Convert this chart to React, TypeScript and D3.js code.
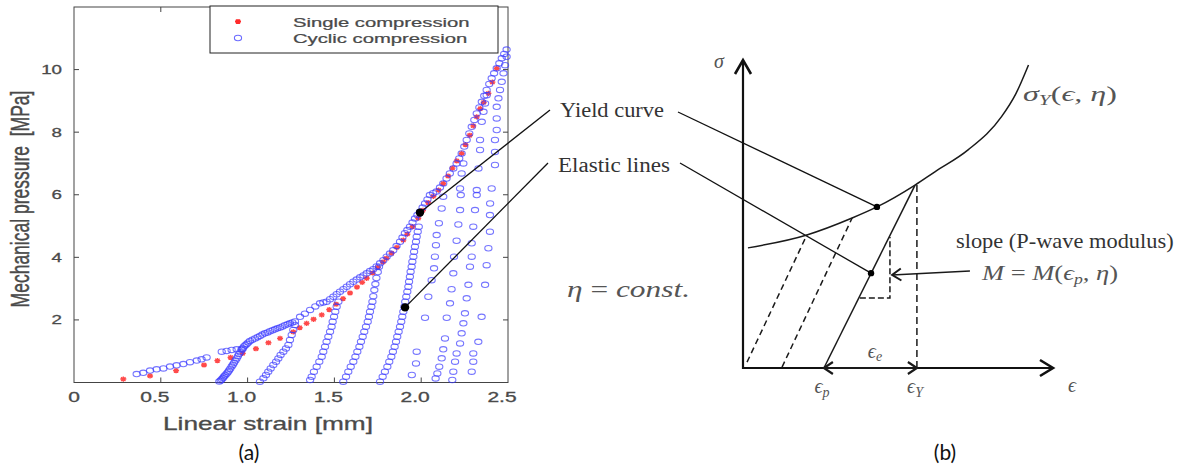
import React from 'react';
import * as d3 from 'd3';

const W = 1195;
const H = 470;

// ---------- panel (a): values ----------
const xTicks = [0, 0.5, 1.0, 1.5, 2.0, 2.5];
const xTickLabels = ['0', '0.5', '1.0', '1.5', '2.0', '2.5'];
const yTicks = [2, 4, 6, 8, 10];
const yTickLabels = ['2', '4', '6', '8', '10'];
const legendLabels = ['Single compression', 'Cyclic compression'];

// red stars, single compression test
const singleCompression = [
  [0.284, 0.11], [0.438, 0.21], [0.588, 0.38], [0.749, 0.56], [0.826, 0.70], [0.902, 0.80],
  [0.972, 0.93], [1.048, 1.08], [1.12, 1.27], [1.187, 1.41], [1.263, 1.62], [1.30, 1.75],
  [1.34, 1.89], [1.38, 2.02], [1.427, 2.16], [1.47, 2.33], [1.51, 2.5], [1.55, 2.68],
  [1.59, 2.86], [1.63, 3.05], [1.66, 3.2], [1.686, 3.33], [1.72, 3.5], [1.75, 3.68],
  [1.78, 3.85], [1.80, 3.97], [1.83, 4.13], [1.86, 4.32], [1.897, 4.55], [1.92, 4.74],
  [1.95, 4.98], [1.983, 5.25], [2.01, 5.5], [2.04, 5.75], [2.07, 5.95], [2.10, 6.15],
  [2.127, 6.36], [2.155, 6.6], [2.18, 6.85], [2.205, 7.08], [2.233, 7.32], [2.255, 7.6],
  [2.28, 7.9], [2.30, 8.2], [2.32, 8.49], [2.34, 8.75], [2.36, 8.95], [2.387, 9.24],
  [2.41, 9.6], [2.435, 10.04],
];

// blue circles, cyclic compression test (one array per visible branch)
const firstLoading = [
  [0.361, 0.27], [0.399, 0.31], [0.438, 0.38], [0.476, 0.42], [0.515, 0.45], [0.553, 0.51],
  [0.591, 0.55], [0.630, 0.59], [0.668, 0.65], [0.707, 0.70], [0.735, 0.74], [0.764, 0.80],
];
const firstPeak = [[0.851, 0.985], [0.879, 1.01], [0.908, 1.04], [0.937, 1.06], [0.966, 1.08]];
const reload1 = [
  [0.837, 0.03], [0.845, 0.06], [0.851, 0.10], [0.858, 0.14], [0.864, 0.19], [0.871, 0.23],
  [0.879, 0.28], [0.886, 0.33], [0.893, 0.38], [0.900, 0.44], [0.908, 0.51], [0.915, 0.57],
  [0.922, 0.63], [0.930, 0.70], [0.937, 0.77], [0.944, 0.84], [0.950, 0.91], [0.958, 0.97],
  [0.966, 1.04], [0.973, 1.09], [0.979, 1.15], [0.987, 1.19], [0.995, 1.23], [1.004, 1.28],
  [1.014, 1.33], [1.028, 1.37], [1.043, 1.41], [1.057, 1.45], [1.071, 1.49], [1.085, 1.53],
  [1.10, 1.57], [1.115, 1.60], [1.129, 1.64], [1.144, 1.67], [1.158, 1.70], [1.172, 1.73],
  [1.187, 1.76], [1.201, 1.79], [1.215, 1.83], [1.230, 1.86], [1.244, 1.89], [1.258, 1.92],
  [1.273, 1.95],
];
const reload2 = [
  [1.071, 0.027], [1.091, 0.133], [1.106, 0.24], [1.119, 0.346], [1.133, 0.45], [1.148, 0.56],
  [1.164, 0.666], [1.177, 0.77], [1.19, 0.88], [1.206, 0.985], [1.221, 1.09], [1.235, 1.2],
  [1.244, 1.36], [1.254, 1.52], [1.263, 1.68], [1.273, 1.84],
];
const envelope = [
  [1.302, 2.10], [1.33, 2.2], [1.36, 2.32], [1.39, 2.43], [1.417, 2.53], [1.436, 2.56],
  [1.455, 2.58], [1.475, 2.66], [1.494, 2.74], [1.513, 2.82], [1.532, 2.90], [1.552, 2.98],
  [1.571, 3.06], [1.59, 3.14], [1.609, 3.22], [1.628, 3.29], [1.648, 3.36], [1.667, 3.42],
  [1.686, 3.49], [1.705, 3.56], [1.724, 3.62], [1.743, 3.71], [1.763, 3.81], [1.782, 3.91],
  [1.801, 4.02], [1.82, 4.12], [1.839, 4.23], [1.858, 4.36], [1.878, 4.50], [1.892, 4.63],
  [1.906, 4.77], [1.92, 4.87], [1.935, 4.98], [1.95, 5.11], [1.964, 5.24], [1.978, 5.35],
  [1.993, 5.46], [2.008, 5.59], [2.022, 5.72], [2.036, 5.85], [2.05, 5.99], [2.069, 6.05],
  [2.088, 6.10], [2.108, 6.23], [2.127, 6.36], [2.146, 6.52], [2.165, 6.68], [2.185, 6.84],
  [2.204, 7.0], [2.219, 7.16], [2.233, 7.32], [2.248, 7.54], [2.262, 7.75], [2.277, 7.96],
  [2.291, 8.17], [2.306, 8.39], [2.320, 8.60], [2.335, 8.79], [2.349, 8.97], [2.363, 9.16],
  [2.377, 9.35], [2.392, 9.54], [2.406, 9.72], [2.42, 9.88], [2.435, 10.04], [2.45, 10.2],
  [2.464, 10.36], [2.478, 10.5], [2.492, 10.64],
];
const branchA = [
  [1.36, 0.08], [1.369, 0.186], [1.382, 0.346], [1.398, 0.506], [1.413, 0.666], [1.427, 0.825],
  [1.436, 0.985], [1.446, 1.145], [1.455, 1.305], [1.465, 1.464], [1.475, 1.624], [1.484, 1.784],
  [1.490, 1.944], [1.498, 2.103], [1.505, 2.263], [1.513, 2.423], [1.523, 2.583],
];
const branchB = [
  [1.551, 0.027], [1.567, 0.186], [1.580, 0.346], [1.594, 0.506], [1.609, 0.666], [1.621, 0.825],
  [1.632, 0.985], [1.644, 1.145], [1.653, 1.305], [1.663, 1.464], [1.672, 1.624], [1.682, 1.784],
  [1.692, 1.944], [1.699, 2.103], [1.705, 2.263], [1.713, 2.423], [1.719, 2.583], [1.724, 2.76],
  [1.730, 2.955], [1.736, 3.147], [1.742, 3.339], [1.750, 3.53], [1.757, 3.70],
];
const branchC = [
  [1.763, 0.027], [1.778, 0.186], [1.791, 0.346], [1.805, 0.506], [1.816, 0.666], [1.828, 0.825],
  [1.837, 0.985], [1.847, 1.145], [1.855, 1.305], [1.862, 1.464], [1.870, 1.624], [1.878, 1.784],
  [1.885, 1.944], [1.891, 2.103], [1.897, 2.263], [1.903, 2.423], [1.908, 2.583], [1.914, 2.742],
  [1.920, 2.902], [1.926, 3.062], [1.930, 3.222], [1.935, 3.381], [1.939, 3.541], [1.945, 3.701],
  [1.949, 3.86], [1.955, 4.02], [1.959, 4.18], [1.964, 4.34], [1.970, 4.5], [1.974, 4.66],
  [1.980, 4.82], [1.986, 4.98],
];
const branchD = [
  [1.946, 0.24], [1.970, 0.61], [1.974, 0.985], [2.022, 2.07], [2.041, 2.74], [2.060, 3.27],
  [2.074, 3.65], [2.079, 4.02], [2.085, 4.39], [2.089, 4.71], [2.102, 5.09], [2.118, 5.56],
  [2.127, 5.94],
];
const branchE = [
  [2.083, 0.13], [2.093, 0.29], [2.104, 0.506], [2.118, 0.772], [2.127, 1.06], [2.137, 1.41],
  [2.147, 2.07], [2.166, 2.53], [2.175, 2.98], [2.185, 3.49], [2.189, 4.02], [2.204, 4.53],
  [2.214, 5.05], [2.224, 5.51], [2.228, 5.99], [2.224, 6.2], [2.233, 6.68], [2.243, 7.0],
];
const branchF = [
  [2.179, 0.08], [2.185, 0.346], [2.195, 0.666], [2.204, 0.93], [2.224, 1.25], [2.233, 1.57],
  [2.243, 1.89], [2.252, 2.21], [2.262, 2.69], [2.272, 3.12], [2.281, 3.70], [2.291, 4.02],
  [2.291, 4.45], [2.300, 4.98], [2.310, 5.51], [2.320, 5.99], [2.32, 6.15], [2.33, 6.84],
  [2.339, 7.43], [2.339, 7.75], [2.349, 8.33], [2.359, 8.65], [2.368, 8.92], [2.377, 9.18],
];
const branchG = [
  [2.291, 0.346], [2.300, 0.666], [2.300, 0.93], [2.329, 1.30], [2.348, 2.10], [2.368, 3.12],
  [2.377, 3.75], [2.387, 4.29], [2.396, 4.82], [2.396, 5.35], [2.397, 5.72], [2.406, 6.2],
  [2.425, 6.95], [2.425, 7.37], [2.425, 7.75], [2.435, 8.07], [2.435, 8.44], [2.435, 8.81],
  [2.445, 9.08], [2.454, 9.35], [2.464, 9.61], [2.474, 9.88], [2.483, 10.14], [2.492, 10.41],
];
const cyclicBranches = [firstLoading, firstPeak, reload1, reload2, envelope, branchA, branchB, branchC, branchD, branchE, branchF, branchG];

// highlighted points linked to the sketch
const yieldPointA = [1.993, 5.43];
const elasticPointA = [1.907, 2.40];

// ---------- panel (b): schematic in unit coordinates ----------
const yieldCurve = [
  [0.016, 0.390], [0.206, 0.432], [0.352, 0.487], [0.432, 0.523], [0.555, 0.594], [0.619, 0.637],
  [0.726, 0.708], [0.834, 0.816], [0.88, 0.89], [0.921, 0.984],
];
const elasticSolid = [[0.261, 0], [0.555, 0.594]];
const elasticDashed = [
  [[0.013, 0.019], [0.206, 0.432]],
  [[0.126, 0.003], [0.352, 0.487]],
];
const yieldStrainLine = [[0.561, 0], [0.561, 0.594]];
const slopeTriangle = [[0.377, 0.227], [0.474, 0.227], [0.474, 0.425]];
const yieldPointB = [0.432, 0.523];
const elasticPointB = [0.413, 0.308];
const slopeArrow = [[0.732, 0.315], [0.481, 0.302]];
const elasticStrain = [[0.261, 0], [0.561, 0]];

const xA = d3.scaleLinear().domain([0, 2.5]).range([74, 508]);
const yA = d3.scaleLinear().domain([0, 12]).range([382.5, 7]);
const xB = d3.scaleLinear().domain([0, 1]).range([743, 1053]);
const yB = d3.scaleLinear().domain([0, 1]).range([368, 60]);

const pB = (d: number[]) => [xB(d[0]), yB(d[1])];
const lineB = d3.line<number[]>().x(d => xB(d[0])).y(d => yB(d[1]));
const curveB = d3.line<number[]>().x(d => xB(d[0])).y(d => yB(d[1])).curve(d3.curveMonotoneX);

// open arrow head at `tip`, pointing away from `from`
const chevron = (tip: number[], from: number[], len: number, half: number) => {
  const dx = tip[0] - from[0];
  const dy = tip[1] - from[1];
  const L = Math.hypot(dx, dy);
  const ux = dx / L, uy = dy / L;
  const bx = tip[0] - ux * len, by = tip[1] - uy * len;
  return `M${bx - uy * half},${by + ux * half}L${tip[0]},${tip[1]}L${bx + uy * half},${by - ux * half}`;
};

const star = 'M-3,0H3M0,-2.6V2.6M-2.2,-1.9L2.2,1.9M-2.2,1.9L2.2,-1.9';

const sans = '"Liberation Sans", Arial, sans-serif';
const serif = '"Liberation Serif", "DejaVu Serif", serif';
const gray = '#4a4a4a';

const PanelA = () => {
  const [x0, x1] = xA.range();
  const [y0, y1] = yA.range();
  return (
    <g>
      <rect x={x0} y={y1} width={x1 - x0} height={y0 - y1} fill="#fff" stroke="#444" strokeWidth={1} />
      {xTicks.slice(1, -1).map(t => (
        <g key={`xt${t}`} stroke="#444">
          <line x1={xA(t)} x2={xA(t)} y1={y0} y2={y0 - 5} />
          <line x1={xA(t)} x2={xA(t)} y1={y1} y2={y1 + 5} />
        </g>
      ))}
      {yTicks.map(t => (
        <g key={`yt${t}`} stroke="#444">
          <line x1={x0} x2={x0 + 5} y1={yA(t)} y2={yA(t)} />
          <line x1={x1} x2={x1 - 5} y1={yA(t)} y2={yA(t)} />
        </g>
      ))}
      {xTicks.map((t, i) => (
        <text key={`xl${t}`} transform={`translate(${xA(t) - (i ? 6 : 0)},402) scale(1.5,1)`}
          textAnchor="middle" fontFamily={sans} fontSize={14} fill={gray} stroke={gray} strokeWidth={0.3}>
          {xTickLabels[i]}
        </text>
      ))}
      {yTicks.map((t, i) => (
        <text key={`yl${t}`} transform={`translate(62,${yA(t) + 4.5}) scale(1.5,1)`}
          textAnchor="end" fontFamily={sans} fontSize={12.5} fill={gray} stroke={gray} strokeWidth={0.3}>
          {yTickLabels[i]}
        </text>
      ))}
      <text transform="translate(268,430) scale(1.5,1)" textAnchor="middle" fontFamily={sans}
        fontSize={17.5} fill={gray} stroke={gray} strokeWidth={0.3}>Linear strain [mm]</text>
      <text transform="translate(29,199) rotate(-90) scale(1,1.5)" textAnchor="middle" fontFamily={sans}
        fontSize={17.5} fill={gray} stroke={gray} strokeWidth={0.3} xmlSpace="preserve">Mechanical pressure  [MPa]</text>

      {singleCompression.map((d, i) => (
        <path key={`s${i}`} d={star} transform={`translate(${xA(d[0])},${yA(d[1])})`}
          stroke="#ff2a2a" strokeWidth={1.4} fill="none" opacity={0.85} />
      ))}
      {cyclicBranches.map((branch, b) => branch.map((d, i) => (
        <ellipse key={`c${b}-${i}`} cx={xA(d[0])} cy={yA(d[1])} rx={3.6} ry={2.7}
          fill="none" stroke="#3a3aff" strokeWidth={1.1} strokeOpacity={0.7} />
      )))}

      <rect x={210} y={6} width={288} height={47} fill="#fff" stroke="#222" strokeWidth={1} />
      <path d={star} transform="translate(238,21.5)" stroke="#ff2a2a" strokeWidth={1.4} fill="none" />
      <ellipse cx={238} cy={38} rx={3.6} ry={2.7} fill="none" stroke="#3a3aff" strokeWidth={1.1} strokeOpacity={0.75} />
      {legendLabels.map((s, i) => (
        <text key={s} transform={`translate(293,${26.5 + i * 16.3}) scale(1.5,1)`} fontFamily={sans}
          fontSize={13.5} fill={gray} stroke={gray} strokeWidth={0.25}>{s}</text>
      ))}
      <text x={249} y={460} textAnchor="middle" fontFamily="Lato, 'Open Sans', sans-serif" fontSize={21} fill="#111">(a)</text>
    </g>
  );
};

const PanelB = () => {
  const o = [xB(0), yB(0)];
  const sigTip = [xB(0), yB(1)];
  const epsTip = [xB(1), yB(0)];
  const es = elasticStrain.map(pB);
  const sa = slopeArrow.map(pB);
  const yd = pB(yieldPointB);
  const ed = pB(elasticPointB);
  const ya = [xA(yieldPointA[0]), yA(yieldPointA[1])];
  const ea = [xA(elasticPointA[0]), yA(elasticPointA[1])];
  const math = { fontFamily: serif, fontStyle: 'italic' as const, fill: '#555' };
  return (
    <g>
      {/* connectors from the data plot to the labels */}
      <g stroke="#111" strokeWidth={1.3} fill="none">
        <line x1={ya[0]} y1={ya[1]} x2={550} y2={110} />
        <line x1={ea[0]} y1={ea[1]} x2={548} y2={163} />
        <line x1={678} y1={112} x2={yd[0]} y2={yd[1]} />
        <line x1={680} y1={163} x2={ed[0]} y2={ed[1]} />
      </g>
      <circle cx={ya[0]} cy={ya[1]} r={4.2} fill="#000" />
      <circle cx={ea[0]} cy={ea[1]} r={4.2} fill="#000" />

      {/* axes */}
      <g stroke="#111" strokeWidth={2.2} fill="none">
        <path d={`M${sigTip[0]},${sigTip[1]}V${o[1]}H${epsTip[0]}`} />
        <path d={chevron(sigTip, o, 14, 8)} strokeWidth={2.6} />
        <path d={chevron(epsTip, o, 13, 8)} strokeWidth={2.6} />
      </g>

      <g stroke="#1a1a1a" strokeWidth={1.5} fill="none">
        <path d={curveB(yieldCurve) ?? ''} />
        <path d={lineB(elasticSolid) ?? ''} />
        {elasticDashed.map((l, i) => <path key={i} d={lineB(l) ?? ''} strokeDasharray="6 4" />)}
        <path d={lineB(yieldStrainLine) ?? ''} strokeDasharray="7 4" />
        <path d={lineB(slopeTriangle) ?? ''} strokeDasharray="6 3" />
        <line x1={es[0][0]} y1={es[0][1]} x2={es[1][0]} y2={es[1][1]} strokeWidth={2} />
        <path d={chevron(es[0], es[1], 9, 6)} strokeWidth={2.2} />
        <path d={chevron(es[1], es[0], 9, 6)} strokeWidth={2.2} />
        <line x1={sa[0][0]} y1={sa[0][1]} x2={sa[1][0]} y2={sa[1][1]} />
        <path d={chevron(sa[1], sa[0], 9, 6)} strokeWidth={2} />
      </g>
      <circle cx={yd[0]} cy={yd[1]} r={3.2} fill="#000" />
      <circle cx={ed[0]} cy={ed[1]} r={3.2} fill="#000" />

      {/* text */}
      <text x={560} y={117} fontFamily={serif} fontSize={20} fill="#333" textLength={104} lengthAdjust="spacingAndGlyphs">Yield curve</text>
      <text x={558} y={172} fontFamily={serif} fontSize={20} fill="#333" textLength={112} lengthAdjust="spacingAndGlyphs">Elastic lines</text>
      <text transform="translate(956,248) scale(1.12,1)" fontFamily={serif} fontSize={20} fill="#333">slope (P-wave modulus)</text>

      <text x={567} y={297} {...math} fontSize={24} textLength={123} lengthAdjust="spacingAndGlyphs">
        η <tspan fontStyle="normal">=</tspan> const.
      </text>
      <text x={1023} y={101} {...math} fontSize={21} textLength={94} lengthAdjust="spacingAndGlyphs">
        σ<tspan fontSize={14} dy={4}>Y</tspan><tspan dy={-4} fontStyle="normal">(</tspan>ϵ, η<tspan fontStyle="normal">)</tspan>
      </text>
      <text x={982} y={280} {...math} fontSize={21} textLength={136} lengthAdjust="spacingAndGlyphs">
        M <tspan fontStyle="normal">=</tspan> M<tspan fontStyle="normal">(</tspan>ϵ<tspan fontSize={14} dy={4}>p</tspan><tspan dy={-4}>, η</tspan><tspan fontStyle="normal">)</tspan>
      </text>
      <text x={719} y={68} {...math} fontSize={20} textAnchor="middle">σ</text>
      <text x={1072} y={392} {...math} fontSize={20} textAnchor="middle">ϵ</text>
      <text x={822} y={393} {...math} fontSize={20} textAnchor="middle">
        ϵ<tspan fontSize={14} dy={4}>p</tspan>
      </text>
      <text x={915} y={393} {...math} fontSize={20} textAnchor="middle">
        ϵ<tspan fontSize={14} dy={4}>Y</tspan>
      </text>
      <text x={875} y={358} {...math} fontSize={20} textAnchor="middle">
        ϵ<tspan fontSize={14} dy={3}>e</tspan>
      </text>
      <text x={945} y={460} textAnchor="middle" fontFamily="Lato, 'Open Sans', sans-serif" fontSize={21} fill="#111">(b)</text>
    </g>
  );
};

export default function App() {
  return (
    <svg width={W} height={H} viewBox={`0 0 ${W} ${H}`}
      style={{ position: 'absolute', left: 0, top: 0, background: '#fff' }}>
      <rect width={W} height={H} fill="#fff" />
      <PanelA />
      <PanelB />
    </svg>
  );
}
